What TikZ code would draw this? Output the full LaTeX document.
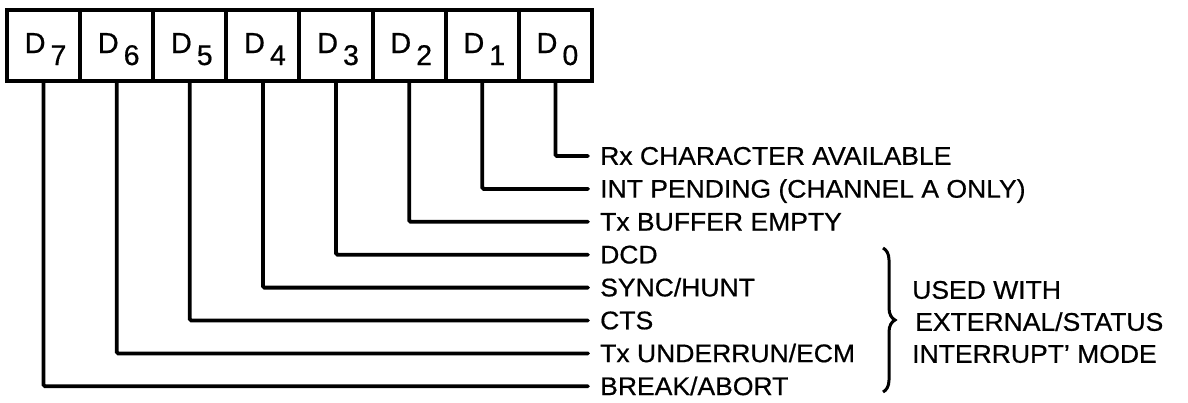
\documentclass[tikz,border=0pt]{standalone}
\usepackage{fontspec}
\setmainfont[FakeBold=0.6]{Liberation Sans}
\usetikzlibrary{decorations.pathreplacing}
\newcommand{\lbltext}[1]{\scalebox{1.04}[1]{#1}}
\tikzset{
  cellbox/.style={draw, line width=4pt, minimum width=73.125pt, minimum height=71pt, inner sep=0pt},
  dlbl/.style={inner sep=0pt, anchor=base, font=\fontsize{29}{29}\selectfont},
  wire/.style={line width=3.8pt, line cap=round, rounded corners=1.5pt},
  lbl/.style={anchor=west, inner xsep=12pt, inner ysep=0pt, text height=17.5pt, text depth=0pt, font=\fontsize{25.5}{25.5}\selectfont},
  grp/.style={anchor=west, inner sep=0pt, text height=17.5pt, text depth=0pt, font=\fontsize{25.5}{25.5}\selectfont},
  bracestyle/.style={line width=3pt, decorate, decoration={brace, amplitude=12pt, aspect=0.5}}
}
\begin{document}
\begin{tikzpicture}[x=1pt,y=-1pt]
\useasboundingbox (0,0) rectangle (1188,402);
\foreach \k in {0,...,7} {
  \node[cellbox] (c\k) at ({555.4-73.125*\k},45.5) {};
  \node[dlbl] (d\k) at ([xshift=2pt,yshift=-7.5pt]c\k.center) {D\hspace{5pt}\raisebox{-12pt}{\fontsize{28.5}{28.5}\selectfont \k}};
}
\node[lbl] (l0) at (588,156)   {\lbltext{Rx CHARACTER AVAILABLE}};
\node[lbl] (l1) at (588,188.9) {\lbltext{INT PENDING (CHANNEL A ONLY)}};
\node[lbl] (l2) at (588,221.8) {\lbltext{Tx BUFFER EMPTY}};
\node[lbl] (l3) at (588,254.7) {\lbltext{DCD}};
\node[lbl] (l4) at (588,287.6) {\lbltext{SYNC/HUNT}};
\node[lbl] (l5) at (588,320.5) {\lbltext{CTS}};
\node[lbl] (l6) at (588,353.4) {\lbltext{Tx UNDERRUN/ECM}};
\node[lbl] (l7) at (588,386.3) {\lbltext{BREAK/ABORT}};
\foreach \k in {0,...,7} {
  \draw[wire] (c\k.south) |- (l\k.west);
}
\draw[bracestyle] (883,248) -- (883,392);
\node[grp] (u1) at (912,290) {\lbltext{USED WITH}};
\node[grp] (u2) at (915,322) {\lbltext{EXTERNAL/STATUS}};
\node[grp] (u3) at (912,354) {\lbltext{INTERRUPT' MODE}};
\end{tikzpicture}
\end{document}
